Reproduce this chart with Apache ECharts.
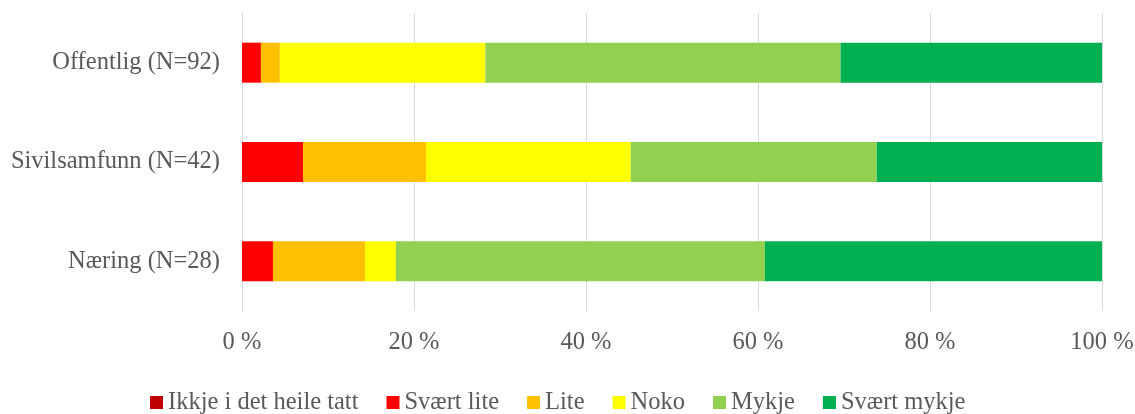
<!DOCTYPE html>
<html>
<head>
<meta charset="utf-8">
<script src="https://cdn.jsdelivr.net/npm/echarts@6/dist/echarts.min.js"></script>
<style>
  html, body { margin: 0; padding: 0; background: #fff; }
  #chart { width: 1135px; height: 414px; }
</style>
</head>
<body>
<div id="chart"></div>
<script>
// categories top to bottom
const categories = ['Offentlig (N=92)', 'Sivilsamfunn (N=42)', 'Næring (N=28)'];
const seriesNames = ['Ikkje i det heile tatt', 'Svært lite', 'Lite', 'Noko', 'Mykje', 'Svært mykje'];
const seriesColors = ['#C00000', '#FF0000', '#FFC000', '#FFFF00', '#92D050', '#00B050'];

// share in percent
const ikkje      = [0,    0,    0];
const svaertLite = [2.2,  7.1,  3.6];
const lite       = [2.2,  14.3, 10.7];
const noko       = [23.9, 23.8, 3.6];
const mykje      = [41.3, 28.6, 42.9];
const svaertMykje = [30.4, 26.2, 39.3];
const ticks = [0, 20, 40, 60, 80, 100];

const values = [ikkje, svaertLite, lite, noko, mykje, svaertMykje];
const font = '"Liberation Serif", "Times New Roman", serif';
const fontSize = 24.5;

const chart = echarts.init(document.getElementById('chart'));
chart.setOption({
  animation: false,
  textStyle: { fontFamily: font },
  grid: { left: 242, right: 33, top: 13, bottom: 103, outerBoundsMode: 'none' },
  legend: {
    top: 390,
    left: 150,
    padding: 0,
    itemWidth: 13,
    itemHeight: 13,
    itemGap: 28,
    icon: 'rect',
    textStyle: { fontFamily: font, fontSize: fontSize, color: '#595959' },
    data: seriesNames,
  },
  xAxis: {
    type: 'value',
    min: ticks[0],
    max: ticks[ticks.length - 1],
    interval: 20,
    axisLine: { show: false },
    axisTick: { show: false },
    splitLine: { lineStyle: { color: '#d9d9d9', width: 1 } },
    axisLabel: {
      margin: 19,
      fontFamily: font,
      fontSize: fontSize,
      color: '#595959',
      formatter: '{value} %',
    },
  },
  yAxis: {
    type: 'category',
    inverse: true,
    data: categories,
    axisLine: { show: true, lineStyle: { color: '#d9d9d9', width: 1 } },
    axisTick: { show: false },
    axisLabel: {
      margin: 22,
      fontFamily: font,
      fontSize: fontSize,
      color: '#595959',
    },
  },
  series: seriesNames.map((name, i) => ({
    name: name,
    type: 'bar',
    stack: 'total',
    barWidth: 40,
    itemStyle: { color: seriesColors[i] },
    data: values[i],
  })),
});
</script>
</body>
</html>
